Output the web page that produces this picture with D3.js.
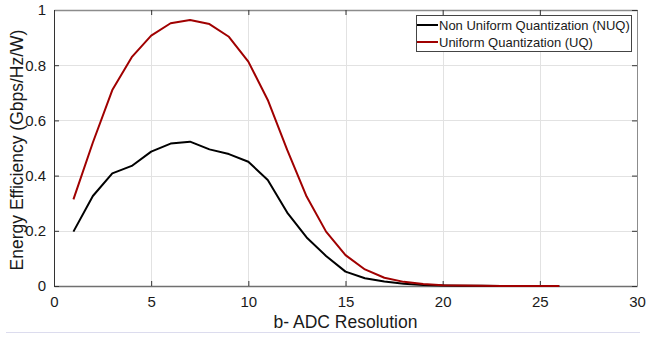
<!DOCTYPE html>
<html>
<head>
<meta charset="utf-8">
<script src="https://cdn.jsdelivr.net/npm/d3@7"></script>
<style>
  body { margin: 0; background: #fff; }
  text { font-family: "Liberation Sans", Arial, sans-serif; fill: #1a1a1a; }
</style>
</head>
<body>
<div id="chart"></div>
<script>
// data
let bits = d3.range(1, 27);
let nuqValues = [0.197, 0.326, 0.408, 0.435, 0.487, 0.516, 0.523, 0.495, 0.478, 0.450,
                 0.384, 0.266, 0.176, 0.109, 0.052, 0.028, 0.016, 0.008, 0.004, 0.002,
                 0.001, 0.0005, 0.0002, 0.0001, 0, 0];
let uqValues = [0.314, 0.520, 0.710, 0.829, 0.907, 0.952, 0.964, 0.949, 0.903, 0.813,
                0.674, 0.493, 0.324, 0.197, 0.112, 0.060, 0.030, 0.015, 0.007, 0.003,
                0.0015, 0.0007, 0.0003, 0.0001, 0, 0];
let xTicks = [0, 5, 10, 15, 20, 25, 30];
let yTicks = [0, 0.2, 0.4, 0.6, 0.8, 1];
let seriesNames = ["Non Uniform Quantization (NUQ)", "Uniform Quantization (UQ)"];
let seriesColors = ["#000000", "#a00000"];

let W = 646, H = 340;
let margin = {top: 10, right: 9, bottom: 54, left: 54};
let width = W - margin.left - margin.right;
let height = H - margin.top - margin.bottom;

let svg = d3.select("#chart").append("svg")
    .attr("width", W)
    .attr("height", H);

// faint page rule under the figure
svg.append("line")
    .attr("x1", 6).attr("x2", 640)
    .attr("y1", 332.5).attr("y2", 332.5)
    .attr("stroke", "#dcdcee").attr("stroke-width", 1);

let g = svg.append("g")
    .attr("transform", `translate(${margin.left}, ${margin.top})`);

let x = d3.scaleLinear().domain([0, 30]).range([0, width]);
let y = d3.scaleLinear().domain([0, 1]).range([height, 0]);

// grid
g.append("g").selectAll("line")
    .data(xTicks.slice(1, -1))
    .enter().append("line")
    .attr("x1", d => Math.round(x(d)) + 0.5).attr("x2", d => Math.round(x(d)) + 0.5)
    .attr("y1", 0).attr("y2", height)
    .attr("stroke", "#e2e2e2");
g.append("g").selectAll("line")
    .data(yTicks.slice(1, -1))
    .enter().append("line")
    .attr("x1", 0).attr("x2", width)
    .attr("y1", d => Math.round(y(d)) + 0.5).attr("y2", d => Math.round(y(d)) + 0.5)
    .attr("stroke", "#e2e2e2");

// axes (MATLAB style, ticks inward, box on)
let xAxis = d3.axisBottom(x).tickValues(xTicks).tickSizeInner(-5).tickSizeOuter(0).tickPadding(10);
let yAxis = d3.axisLeft(y).tickValues(yTicks).tickSizeInner(-5).tickSizeOuter(0).tickPadding(8)
    .tickFormat(d => d === 0 || d === 1 ? d : d3.format(".1f")(d));

let gx = g.append("g").attr("class", "x-axis axis")
    .attr("transform", `translate(0, ${height})`)
    .call(xAxis);
let gy = g.append("g").attr("class", "y-axis axis")
    .call(yAxis);

g.append("g").attr("transform", "translate(0, 0)")
    .call(d3.axisTop(x).tickValues(xTicks).tickSizeInner(-5).tickSizeOuter(0).tickFormat(""))
    .call(a => a.select(".domain").attr("stroke", "#8c8c8c").attr("stroke-width", 1.5));
g.append("g").attr("transform", `translate(${width}, 0)`)
    .call(d3.axisRight(y).tickValues(yTicks).tickSizeInner(-5).tickSizeOuter(0).tickFormat(""))
    .call(a => a.select(".domain").attr("stroke", "#8c8c8c"));

gx.select(".domain").attr("stroke", "#707070").attr("stroke-width", 1.5);
gy.select(".domain").attr("stroke", "#333");
g.selectAll(".tick line").attr("stroke", "#333");
g.selectAll(".axis text").style("font-size", "15px").attr("fill", "#1a1a1a");

// lines
let line = d3.line()
    .x((d, i) => x(bits[i]))
    .y(d => y(d));

[nuqValues, uqValues].forEach((vals, i) => {
    g.append("path")
        .datum(vals)
        .attr("fill", "none")
        .attr("stroke", seriesColors[i])
        .attr("stroke-width", 2)
        .attr("stroke-linejoin", "round")
        .attr("d", line);
});

// axis labels
svg.append("text")
    .attr("x", margin.left + width / 2)
    .attr("y", 328)
    .attr("text-anchor", "middle")
    .style("font-size", "17.5px")
    .text("b- ADC Resolution");

svg.append("text")
    .attr("transform", `translate(23, ${margin.top + height / 2 + 2}) rotate(-90)`)
    .attr("text-anchor", "middle")
    .style("font-size", "17.5px")
    .text("Energy Efficiency (Gbps/Hz/W)");

// legend
let legend = svg.append("g").attr("transform", "translate(416, 15)");
legend.append("rect")
    .attr("x", 0.5).attr("y", 0.5)
    .attr("width", 215).attr("height", 36)
    .attr("fill", "#fff").attr("stroke", "#444").attr("stroke-width", 1);
seriesNames.forEach((name, i) => {
    let row = legend.append("g").attr("transform", `translate(0, ${10 + i * 17})`);
    row.append("line")
        .attr("x1", 1).attr("x2", 22)
        .attr("y1", 0).attr("y2", 0)
        .attr("stroke", seriesColors[i]).attr("stroke-width", 2);
    row.append("text")
        .attr("x", 23).attr("y", 4.5)
        .style("font-size", "13px")
        .text(name);
});
</script>
</body>
</html>
